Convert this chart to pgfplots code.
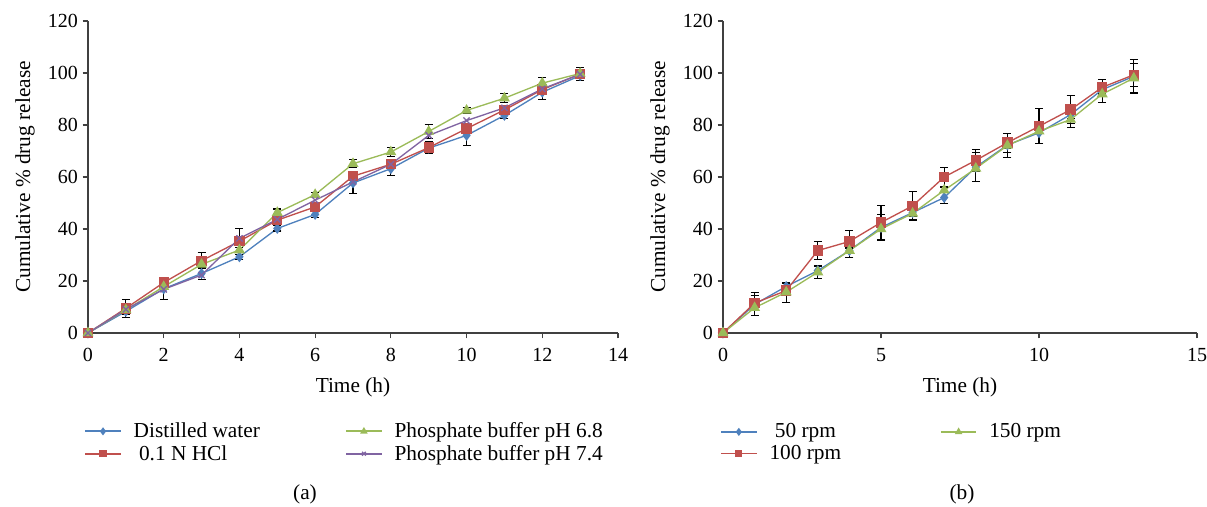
\documentclass[border=0pt]{standalone}
\usepackage{fontspec}
\setmainfont{Liberation Serif}
\usepackage{pgfplots}
\usepackage{pgfplotstable}
\pgfplotsset{compat=1.18}

\definecolor{xlblue}{HTML}{4F81BD}
\definecolor{xlred}{HTML}{C0504D}
\definecolor{xlgreen}{HTML}{9BBB59}
\definecolor{xlpurple}{HTML}{8064A2}

% (a) release media: value and sd columns
\pgfplotstableread{
t  dw    dwe  hcl   hcle  p68   p68e  p74
0  0     0.5  0     0.5   0     0.5   0
1  8.3   1.0  9.5   3.5   8.9   1.0   9.1
2  17.0  4.0  19.4  1.0   17.8  1.0   16.8
3  22.9  2.3  27.8  3.0   26.4  1.0   22.3
4  29.3  1.0  35.3  5.0   31.9  1.0   36.4
5  40.2  1.0  43.4  4.0   46.3  1.6   43.7
6  45.6  1.0  48.5  1.5   53.2  1.0   51.1
7  57.7  4.0  60.3  1.5   65.1  1.5   58.1
8  63.2  2.6  64.9  1.5   69.6  1.8   64.9
9  71.1  1.0  71.3  2.3   77.5  2.7   76.0
10 76.0  4.0  78.6  1.5   85.6  1.0   81.7
11 83.7  1.3  85.8  1.0   90.3  1.7   86.6
12 92.6  2.9  93.6  1.0   96.1  2.0   93.9
13 99.0  1.0  99.6  2.5   99.8  1.0   99.5
}\mediatab

% (b) paddle speed
\pgfplotstableread{
t  r50   r50e  r100  r100e  r150  r150e
0  0     0.5   0     0.5    0     0.5
1  11.0  4.4   11.5  3.0    9.7   1.0
2  17.9  1.2   16.3  1.5    15.7  3.8
3  24.0  1.5   31.7  3.6    23.4  2.6
4  31.7  2.6   35.2  4.4    31.7  1.0
5  40.6  4.9   42.5  6.4    40.0  1.0
6  46.3  2.9   48.9  5.4    46.0  1.0
7  52.1  2.3   60.0  3.8    54.9  1.0
8  63.8  5.7   66.4  4.2    63.3  1.0
9  72.3  1.5   73.2  3.7    72.1  4.7
10 77.0  4.2   79.5  6.7    77.6  1.0
11 84.0  1.5   85.9  5.4    82.1  3.2
12 93.6  1.5   94.5  2.9    91.9  3.2
13 98.7  6.4   99.3  4.5    98.0  1.0
}\speedtab

\pgfplotsset{
  relplot/.style={
    scale only axis, height=234pt,
    ymin=0, ymax=120, ytick={0,20,...,120},
    axis x line*=bottom, axis y line*=left,
    axis line style={black!75, line width=0.8pt},
    tick style={black!75, line width=0.8pt},
    tick align=outside, major tick length=4pt,
    /pgf/number format/assume math mode=true,
    tick label style={font=\fontsize{15}{18}\selectfont},
    xticklabel style={yshift=-4pt},
    label style={font=\fontsize{16}{19}\selectfont},
    xlabel={Time (h)}, ylabel={Cumulative \% drug release},
    ylabel shift=3pt, xlabel shift=5pt,
    clip=false,
    legend columns=2, transpose legend,
    legend cell align=left,
    legend style={draw=none, fill=none, font=\fontsize{16}{19}\selectfont,
      anchor=north west, row sep=0pt,
      /tikz/every odd column/.append style={column sep=7pt}},
    legend image code/.code={\draw[mark repeat=2,mark phase=2,##1,line width=1.3pt,mark size=2pt]
      plot coordinates {(0cm,0cm) (0.47cm,0cm) (0.94cm,0cm)};},
    every axis plot/.append style={line width=1pt},
    error bars/y dir=both, error bars/y explicit,
    error bars/error bar style={black, line width=0.8pt},
    error bars/error mark options={black, rotate=90, mark size=3pt, line width=0.8pt},
  },
}

\begin{document}
\begin{tikzpicture}
\useasboundingbox (-66pt,-130.5pt) rectangle (839.25pt,249.75pt);

\begin{axis}[relplot, at={(0,0)}, anchor=south west, width=397.5pt,
  xmin=0, xmax=14, xtick={0,2,...,14},
  legend style={at={(-0.015,-0.27)},
    /tikz/every even column/.append style={column sep=62pt}}]
\addplot[color=xlblue, mark=diamond*, mark size=3.3pt,
  mark options={fill=xlblue, draw=xlblue}, error bars/.cd]
  table[x=t, y=dw, y error=dwe] {\mediatab};
\addplot[color=xlred, mark=square*, mark size=3.4pt,
  mark options={fill=xlred, draw=xlred}, error bars/.cd]
  table[x=t, y=hcl, y error=hcle] {\mediatab};
\addplot[color=xlgreen, mark=triangle*, mark size=3.8pt,
  mark options={fill=xlgreen, draw=xlgreen}, error bars/.cd]
  table[x=t, y=p68, y error=p68e] {\mediatab};
\addplot[color=xlpurple, mark=x, mark size=3.3pt,
  mark options={draw=xlpurple, line width=1pt}]
  table[x=t, y=p74] {\mediatab};
\legend{Distilled water, \ 0.1 N HCl, Phosphate buffer pH 6.8, Phosphate buffer pH 7.4}
\end{axis}

\begin{axis}[relplot, at={(476.25pt,0)}, anchor=south west, width=355.5pt,
  xmin=0, xmax=15, xtick={0,5,10,15},
  legend style={at={(-0.015,-0.273)},
    /tikz/every even column/.append style={column sep=72pt}}]
\addplot[color=xlblue, mark=diamond*, mark size=3.3pt,
  mark options={fill=xlblue, draw=xlblue}, error bars/.cd]
  table[x=t, y=r50, y error=r50e] {\speedtab};
\addplot[color=xlred, mark=square*, mark size=3.4pt,
  mark options={fill=xlred, draw=xlred}, error bars/.cd]
  table[x=t, y=r100, y error=r100e] {\speedtab};
\addplot[color=xlgreen, mark=triangle*, mark size=3.8pt,
  mark options={fill=xlgreen, draw=xlgreen}, error bars/.cd]
  table[x=t, y=r150, y error=r150e] {\speedtab};
\legend{\ 50 rpm, 100 rpm, 150 rpm}
\end{axis}

\node[font=\fontsize{16}{19}\selectfont] at (162.75pt,-121pt) {(a)};
\node[font=\fontsize{16}{19}\selectfont] at (655.5pt,-121pt) {(b)};
\end{tikzpicture}
\end{document}
